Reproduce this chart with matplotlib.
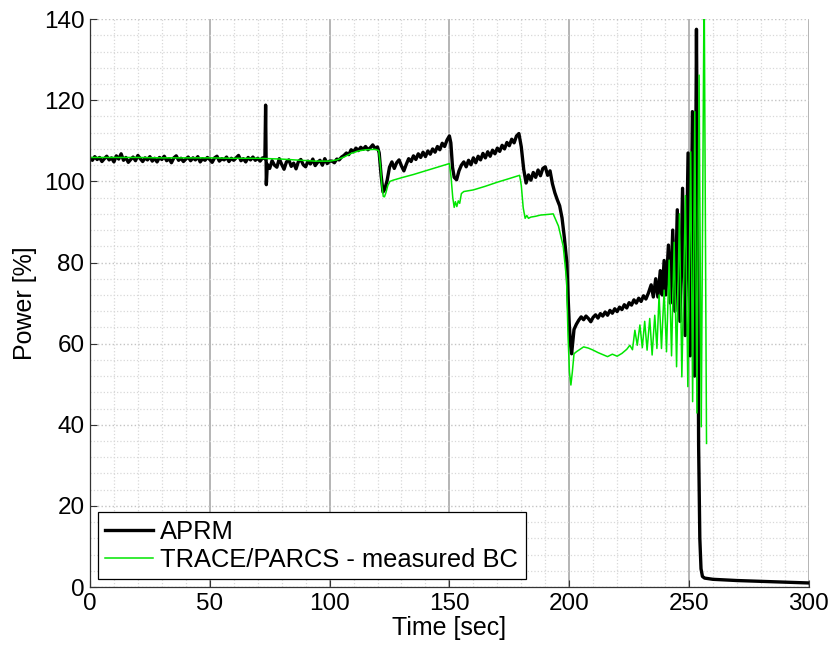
import numpy as np
import matplotlib
matplotlib.use("Agg")
import matplotlib.pyplot as plt
from matplotlib.ticker import MultipleLocator

plt.rcParams['font.family'] = ['Liberation Sans', 'DejaVu Sans']

# ---------------- APRM (measured) ----------------
aprm_s1_vals = [105.8, 105.2, 106.1, 105.4, 105.9, 104.9, 105.6, 106.2, 105.3, 105.8,
                104.8, 106.3, 105.5, 106.8, 105.2, 105.9, 104.7, 105.4, 106.0, 105.1,
                106.4, 105.6, 104.9, 105.8, 105.3, 106.1, 105.0, 105.7, 104.8, 105.9,
                105.4, 106.2, 105.1, 105.6, 104.6, 105.8, 106.3, 105.2, 105.7, 104.9,
                105.5, 106.0, 105.1, 105.8, 105.3, 106.1, 104.8, 105.6, 105.2, 105.9,
                105.4, 104.7, 105.8, 106.2, 105.0, 105.6, 105.3, 106.0, 104.9, 105.7,
                105.2, 105.8, 106.4, 105.1, 105.6, 104.8, 105.9, 105.3, 106.0, 105.2,
                105.7, 105.0, 105.8]                      # t = 0..72
aprm_spike_t = [73.0, 73.3, 73.6, 74.0]
aprm_spike_v = [105.6, 118.8, 99.2, 104.2]
aprm_s3_vals = [103.2, 105.1, 104.0, 103.5, 105.6, 104.2, 103.0, 104.8, 105.3, 103.7,
                104.5, 103.1, 104.9, 105.4, 104.1, 103.6, 105.0, 104.3, 105.5, 103.9,
                104.7, 105.2, 104.0, 105.6, 104.4, 105.0]  # t = 75..100
aprm_s4_vals = [105.0, 104.6, 105.5, 105.3, 106.0, 106.4, 107.0, 106.6, 107.8, 107.3,
                108.2, 107.6, 108.4, 107.9, 108.6, 107.8, 108.3, 109.0, 108.1, 108.5]  # 101..120
aprm_s5_t = [120.7, 121.5, 122.3, 123.0]
aprm_s5_v = [107.0, 101.5, 97.4, 98.0]
aprm_s6_vals = [100.2, 103.5, 104.8, 103.2, 104.6, 105.3, 103.8, 102.6, 104.2, 105.6,
                104.9, 106.3, 105.4, 106.8, 105.9, 107.2, 106.1, 107.5, 106.7, 108.0,
                107.2, 108.6, 107.8, 109.4, 108.6, 110.2, 111.2]  # 124..150
aprm_s7_t = [150.6, 151.3, 152.0, 153.0, 154.0, 155.0]
aprm_s7_v = [109.5, 103.5, 101.0, 100.4, 102.6, 104.0]
aprm_s8_vals = [104.8, 103.6, 105.2, 104.1, 105.8, 104.6, 106.2, 105.3, 106.9, 105.8,
                107.3, 106.2, 107.7, 106.8, 108.2, 107.4, 108.9, 108.0, 109.6, 108.8,
                110.4, 109.5, 111.2, 111.8]                # 156..179
aprm_s9_vals = [108.5, 103.0, 99.6, 101.6, 100.3, 102.2, 101.0, 102.8, 101.4, 103.2,
                103.6, 101.5, 102.6, 99.4, 97.2, 95.5, 94.0, 91.0, 86.0, 80.0]  # 180..199
aprm_s10_t = [199.5, 200.0, 200.5, 201.0, 201.5, 202.0, 203.0]
aprm_s10_v = [72.0, 65.0, 60.0, 57.5, 60.5, 63.5, 64.8]
aprm_s11_vals = [65.8, 66.6, 65.9, 66.8, 66.2, 65.4, 66.5, 67.1, 66.3, 67.4,
                 66.8, 67.8, 67.0, 68.2, 67.5, 68.6, 67.9, 69.0, 68.4, 69.6,
                 68.8, 70.1, 69.5, 70.8, 70.0, 71.2, 70.4, 71.8, 71.0, 72.4]  # 204..233
aprm_s12_t = [234.2, 235.1, 236.1, 237.0, 238.0, 238.8, 239.6, 240.3, 241.4, 242.2,
              243.2, 244.1, 245.1, 246.2, 247.3, 248.4, 249.6, 250.5, 251.4, 252.3,
              253.1, 253.6, 254.0, 254.5, 255.0, 255.6, 256.5]
aprm_s12_v = [74.5, 71.5, 76.0, 71.5, 78.0, 72.0, 80.5, 72.0, 84.3, 70.0,
              88.0, 68.0, 93.0, 65.5, 98.3, 62.0, 107.0, 57.0, 117.2, 52.0,
              137.5, 90.0, 35.0, 12.0, 4.5, 2.6, 2.2]
aprm_s13_t = [260, 270, 280, 290, 300]
aprm_s13_v = [1.9, 1.6, 1.4, 1.2, 1.0]


def seg(start, vals, step=1.0):
    return list(start + step * np.arange(len(vals)))


aprm_time = (seg(0, aprm_s1_vals) + aprm_spike_t + seg(75, aprm_s3_vals) + seg(101, aprm_s4_vals)
             + aprm_s5_t + seg(124, aprm_s6_vals) + aprm_s7_t + seg(156, aprm_s8_vals)
             + seg(180, aprm_s9_vals) + aprm_s10_t + seg(204, aprm_s11_vals)
             + aprm_s12_t + aprm_s13_t)
aprm_power = (aprm_s1_vals + aprm_spike_v + aprm_s3_vals + aprm_s4_vals + aprm_s5_v
              + aprm_s6_vals + aprm_s7_v + aprm_s8_vals + aprm_s9_vals + aprm_s10_v
              + aprm_s11_vals + aprm_s12_v + aprm_s13_v)

# ---------------- TRACE/PARCS ----------------
tp_t1 = [0, 10, 20, 30, 40, 50, 60, 70, 80, 88, 94, 100, 103, 106, 109, 112, 115, 119, 120.5]
tp_v1 = [105.9, 105.9, 105.9, 105.8, 105.8, 105.8, 105.7, 105.7, 105.5, 105.2, 105.0, 105.0,
         105.3, 106.0, 106.9, 107.5, 107.8, 107.9, 107.6]
tp_t2 = [121.2, 121.8, 122.4, 122.9, 123.5, 124.3, 125.2, 126.5, 130, 135, 140, 145, 150.0]
tp_v2 = [104.0, 99.0, 96.3, 96.2, 97.2, 99.0, 100.0, 100.3, 100.9, 101.7, 102.6, 103.5, 104.4]
tp_t3 = [150.7, 151.4, 152.0, 152.5, 153.1, 153.7, 154.3, 155.0, 156.0, 160, 165, 170, 175, 179.3]
tp_v3 = [101.0, 96.0, 93.6, 95.0, 93.8, 95.2, 94.6, 97.0, 97.5, 97.9, 98.8, 99.8, 100.7, 101.5]
tp_t4 = [180.0, 180.8, 181.6, 182.3, 183.0, 184.0, 186, 188, 190, 191.8]
tp_v4 = [99.0, 93.5, 90.9, 91.6, 90.9, 91.2, 91.4, 91.7, 91.8, 91.9]
tp_t5 = [193.3, 195.5, 197.5, 198.9, 199.5, 200.1, 200.7, 201.3, 202.0, 203.0, 204.5, 206,
         208, 210, 212, 214, 216, 218, 220, 222, 224, 225.3]
tp_v5 = [92.0, 89.0, 84.0, 75.7, 62.0, 53.0, 49.8, 53.0, 57.5, 58.0, 58.6, 59.2, 58.9, 58.4,
         57.8, 57.3, 56.8, 57.4, 56.9, 57.6, 58.6, 59.6]
tp_t6 = [226.4, 227.4, 228.4, 229.5, 230.5, 231.5, 232.5, 233.6, 234.6, 235.7, 236.6, 237.5,
         238.5, 239.6, 240.6, 241.7, 242.7, 243.8, 244.8, 246.0, 247.0, 248.5, 249.5, 250.7,
         251.5, 252.4, 253.3, 254.2, 255.1, 256.3, 257.3]
tp_v6 = [58.5, 63.3, 59.6, 64.6, 59.0, 65.5, 58.4, 66.2, 57.2, 67.0, 58.8, 72.0,
         58.8, 73.2, 58.0, 80.6, 57.0, 85.0, 54.3, 92.0, 51.8, 96.5, 49.4, 107.3,
         45.7, 117.2, 42.9, 126.2, 39.5, 150.0, 35.4]

tp_time = tp_t1 + tp_t2 + tp_t3 + tp_t4 + tp_t5 + tp_t6
tp_power = tp_v1 + tp_v2 + tp_v3 + tp_v4 + tp_v5 + tp_v6

# ---------------- figure ----------------
fig = plt.figure(figsize=(8.33, 6.49), dpi=100)
ax = fig.add_axes([0.108, 0.0955, 0.863, 0.875])

ax.set_xlim(0, 300)
ax.set_ylim(0, 140)
ax.xaxis.set_major_locator(MultipleLocator(50))
ax.xaxis.set_minor_locator(MultipleLocator(10))
ax.yaxis.set_major_locator(MultipleLocator(20))
ax.yaxis.set_minor_locator(MultipleLocator(4))

ax.grid(which='minor', axis='both', color='#d8d8d8', linestyle=':', linewidth=0.9)
ax.grid(which='major', axis='y', color='#c4c4c4', linestyle=':', linewidth=1.0)
ax.grid(which='major', axis='x', color='#a8a8a8', linestyle='-', linewidth=1.2)
ax.set_axisbelow(True)

ax.plot(aprm_time, aprm_power, color='black', linewidth=2.4, label='APRM')
ax.plot(tp_time, tp_power, color='#00e600', linewidth=1.1, label='TRACE/PARCS - measured BC')

for s in ['top', 'right']:
    ax.spines[s].set_visible(False)
for s in ['left', 'bottom']:
    ax.spines[s].set_color('#333333')
    ax.spines[s].set_linewidth(0.9)

ax.tick_params(axis='both', which='major', direction='in', length=5, labelsize=17.5,
               color='#333333', pad=4)
ax.tick_params(axis='both', which='minor', length=0)

ax.set_xlabel('Time [sec]', fontsize=18, labelpad=1)
ax.set_ylabel('Power [%]', fontsize=18, labelpad=5)

leg = ax.legend(loc='lower left', fontsize=18.4, frameon=True, fancybox=False,
                edgecolor='black', framealpha=1, borderpad=0.3, handlelength=1.85,
                handletextpad=0.3, labelspacing=0.15, borderaxespad=0.3)
leg.get_frame().set_linewidth(0.9)

fig.savefig('out.png', dpi=100)
